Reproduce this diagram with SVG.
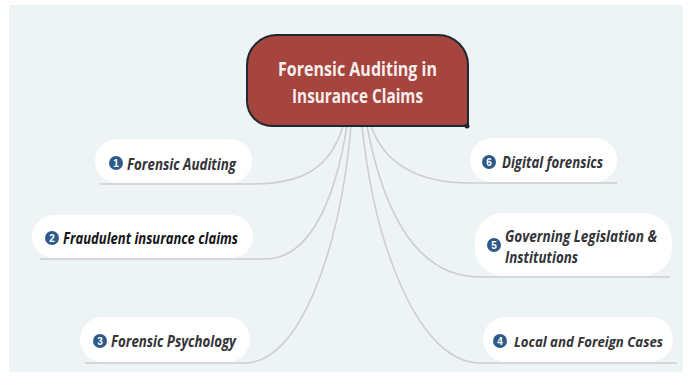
<svg xmlns="http://www.w3.org/2000/svg" width="691" height="378" viewBox="0 0 691 378">
<style>
.bg{fill:#eef3f6}
.conn{fill:none;stroke:#cbcfd2;stroke-width:1.6}
.pill{fill:#ffffff}
.lbl{font-family:"Open Sans","Liberation Sans",sans-serif;font-weight:bold;font-style:italic;font-size:16px;fill:#333338}
.badge{fill:#2d5a88}
.num{font-family:"Liberation Sans",sans-serif;font-weight:bold;font-size:10px;fill:#ffffff;text-anchor:middle}
.title{font-family:"Open Sans","Liberation Sans",sans-serif;font-weight:bold;font-size:19px;fill:#f7eeee;text-anchor:middle}
</style>
<rect width="691" height="378" fill="#ffffff"/>
<rect class="bg" x="9" y="5" width="674" height="367"/>
<g id="connectors">
<path class="conn" d="M343,126 C330,170 300,184 252,184 L100,184"/>
<path class="conn" d="M347,126 C335,200 310,259 265,259 L40,259"/>
<path class="conn" d="M351,126 C340,250 300,363 245,363 L85,363"/>
<path class="conn" d="M362,126 C375,250 420,363 480,363 L677,363"/>
<path class="conn" d="M367,126 C385,220 420,277 480,277 L670,277"/>
<path class="conn" d="M371,126 C385,165 420,183 470,183 L617,183"/>
</g>
<g id="central">
<path d="M278,35 H438 A30,30 0 0 1 468,65 V126 H272 A25,25 0 0 1 247,101 V65 A30,30 0 0 1 278,35 Z" fill="#a5453d" stroke="#1d2833" stroke-width="2"/>
<circle cx="467" cy="126" r="2.5" fill="#1d2833"/>
<text class="title" x="357.5" y="76" textLength="159" lengthAdjust="spacingAndGlyphs">Forensic Auditing in</text>
<text class="title" x="357.5" y="103" textLength="131" lengthAdjust="spacingAndGlyphs">Insurance Claims</text>
</g>
<g id="node1">
<rect class="pill" x="95" y="139" width="157" height="44" rx="22"/>
<circle class="badge" cx="116" cy="163" r="7"/>
<text class="num" x="116" y="166.5">1</text>
<text class="lbl" x="127" y="170" textLength="109" lengthAdjust="spacingAndGlyphs">Forensic Auditing</text>
</g>
<g id="node2">
<rect class="pill" x="32" y="215" width="221" height="43" rx="21.5"/>
<circle class="badge" cx="52" cy="238" r="7"/>
<text class="num" x="52" y="241.5">2</text>
<text class="lbl" x="63" y="244" textLength="175" lengthAdjust="spacingAndGlyphs" style="fill:#141418">Fraudulent insurance claims</text>
</g>
<g id="node3">
<rect class="pill" x="80" y="317" width="170" height="45" rx="22.5"/>
<circle class="badge" cx="100" cy="341" r="7"/>
<text class="num" x="100" y="344.5">3</text>
<text class="lbl" x="111" y="347" textLength="125" lengthAdjust="spacingAndGlyphs">Forensic Psychology</text>
</g>
<g id="node4">
<rect class="pill" x="483" y="317" width="190" height="45" rx="22.5"/>
<circle class="badge" cx="500" cy="341" r="7"/>
<text class="num" x="500" y="344.5">4</text>
<text class="lbl" x="514" y="347" textLength="149" lengthAdjust="spacingAndGlyphs" style="font-size:15px">Local and Foreign Cases</text>
</g>
<g id="node5">
<rect class="pill" x="475" y="213" width="197" height="63" rx="28"/>
<circle class="badge" cx="494" cy="245" r="7"/>
<text class="num" x="494" y="248.5">5</text>
<text class="lbl" x="505" y="242" textLength="152" lengthAdjust="spacingAndGlyphs">Governing Legislation &amp;</text>
<text class="lbl" x="505" y="263" textLength="73" lengthAdjust="spacingAndGlyphs">Institutions</text>
</g>
<g id="node6">
<rect class="pill" x="470" y="138" width="147" height="44" rx="22"/>
<circle class="badge" cx="489" cy="162" r="7"/>
<text class="num" x="489" y="165.5">6</text>
<text class="lbl" x="502" y="168" textLength="101" lengthAdjust="spacingAndGlyphs">Digital forensics</text>
</g>
</svg>
